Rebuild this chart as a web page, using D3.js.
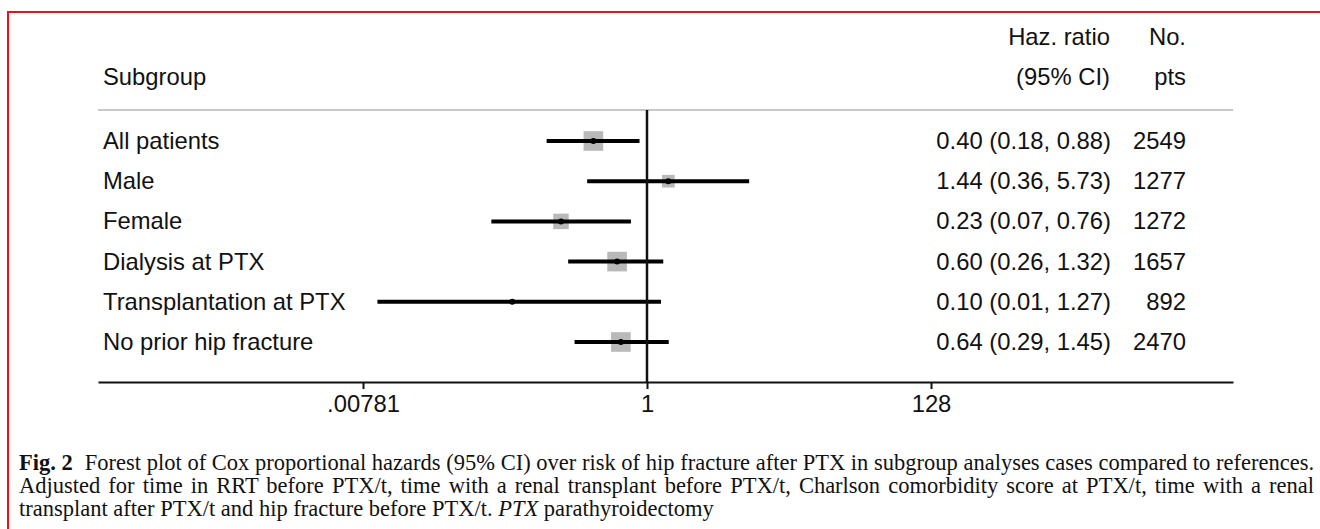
<!DOCTYPE html>
<html>
<head>
<meta charset="utf-8">
<script src="https://cdn.jsdelivr.net/npm/d3@7"></script>
<style>
  body { margin: 0; background: #fff; }
  svg { display: block; }
</style>
</head>
<body>
<svg id="chart" width="1320" height="529"></svg>
<script>
// data
const subgroups = ['All patients', 'Male', 'Female', 'Dialysis at PTX', 'Transplantation at PTX', 'No prior hip fracture'];
const hazRatio = [0.40, 1.44, 0.23, 0.60, 0.10, 0.64];
const ciLow = [0.18, 0.36, 0.07, 0.26, 0.01, 0.29];
const ciHigh = [0.88, 5.73, 0.76, 1.32, 1.27, 1.45];
const nPts = [2549, 1277, 1272, 1657, 892, 2470];
const boxWeight = [24, 10, 15, 24, 1, 24];
const tickValues = [Math.pow(2, -7), 1, 128];
const tickLabels = ['.00781', '1', '128'];

const captionLines = [
  'Forest plot of Cox proportional hazards (95% CI) over risk of hip fracture after PTX in subgroup analyses cases compared to references.',
  'Adjusted for time in RRT before PTX/t, time with a renal transplant before PTX/t, Charlson comorbidity score at PTX/t, time with a renal',
  'transplant after PTX/t and hip fracture before PTX/t.'
];

const sans = '"Liberation Sans", Arial, Helvetica, sans-serif';
const serif = '"Liberation Serif", "Times New Roman", serif';
const fontSize = 23.8;

const svg = d3.select('#chart');

// red frame (cut off at right and bottom)
svg.append('rect')
  .attr('x', 8).attr('y', 12)
  .attr('width', 1400).attr('height', 600)
  .attr('fill', 'none')
  .attr('stroke', '#e8141b')
  .attr('stroke-width', 2);

const plotLeft = 98;
const plotRight = 1233;
const headerLine = 110;
const axisY = 382;

const x = d3.scaleLog().base(2)
  .domain([Math.pow(2, -7), Math.pow(2, 7)])
  .range([363, 931]);

const xAxisScale = x.copy()
  .domain([x.invert(plotLeft), x.invert(plotRight)])
  .range([plotLeft, plotRight]);

const y = d3.scalePoint()
  .domain(subgroups)
  .range([141, 342]);

const boxSize = d3.scaleSqrt()
  .domain([0, 24])
  .range([0, 19.6]);

const fmt = d3.format('.2f');

// header texts
const header = svg.append('g')
  .style('font-family', sans)
  .style('font-size', fontSize + 'px')
  .attr('fill', '#111');

header.append('text').attr('x', 103).attr('y', 85).text('Subgroup');
header.append('text').attr('x', 1110).attr('y', 45).attr('text-anchor', 'end').text('Haz. ratio');
header.append('text').attr('x', 1110).attr('y', 85).attr('text-anchor', 'end').text('(95% CI)');
header.append('text').attr('x', 1186).attr('y', 45).attr('text-anchor', 'end').text('No.');
header.append('text').attr('x', 1186).attr('y', 85).attr('text-anchor', 'end').text('pts');

// gray divider under the header
svg.append('line')
  .attr('x1', plotLeft).attr('x2', plotRight)
  .attr('y1', headerLine).attr('y2', headerLine)
  .attr('stroke', '#c8c8c8')
  .attr('stroke-width', 2);

// x axis
const xAxis = d3.axisBottom(xAxisScale)
  .tickValues(tickValues)
  .tickFormat((d, i) => tickLabels[i])
  .tickSizeInner(7)
  .tickSizeOuter(0)
  .tickPadding(6);

const ax = svg.append('g')
  .attr('transform', `translate(0,${axisY})`)
  .call(xAxis);

ax.select('.domain').attr('stroke', '#111').attr('stroke-width', 2);
ax.selectAll('.tick line').attr('stroke', '#111').attr('stroke-width', 2);
ax.selectAll('.tick text')
  .attr('fill', '#111')
  .style('font-family', sans)
  .style('font-size', fontSize + 'px');

const rows = svg.append('g')
  .selectAll('.row')
  .data(subgroups)
  .enter()
  .append('g')
  .attr('class', 'row');

// weight boxes
rows.append('rect')
  .attr('x', (d, i) => x(hazRatio[i]) - boxSize(boxWeight[i]) / 2)
  .attr('y', (d, i) => y(d) - boxSize(boxWeight[i]) / 2)
  .attr('width', (d, i) => boxSize(boxWeight[i]))
  .attr('height', (d, i) => boxSize(boxWeight[i]))
  .attr('fill', '#b9b9b9');

// null line
svg.append('line')
  .attr('x1', x(1)).attr('x2', x(1))
  .attr('y1', headerLine).attr('y2', axisY)
  .attr('stroke', '#111')
  .attr('stroke-width', 2.5);

// confidence intervals
rows.append('line')
  .attr('x1', (d, i) => x(ciLow[i]))
  .attr('x2', (d, i) => x(ciHigh[i]))
  .attr('y1', (d) => y(d))
  .attr('y2', (d) => y(d))
  .attr('stroke', '#000')
  .attr('stroke-width', 4);

// point estimates
rows.append('circle')
  .attr('cx', (d, i) => x(hazRatio[i]))
  .attr('cy', (d) => y(d))
  .attr('r', 3)
  .attr('fill', '#000');

// row texts
const rowText = rows.append('g')
  .style('font-family', sans)
  .style('font-size', fontSize + 'px')
  .attr('fill', '#111');

rowText.append('text')
  .attr('x', 103)
  .attr('y', (d) => y(d) + 8)
  .text((d) => d);

rowText.append('text')
  .attr('x', 1111)
  .attr('y', (d) => y(d) + 8)
  .attr('text-anchor', 'end')
  .text((d, i) => `${fmt(hazRatio[i])} (${fmt(ciLow[i])}, ${fmt(ciHigh[i])})`);

rowText.append('text')
  .attr('x', 1186)
  .attr('y', (d) => y(d) + 8)
  .attr('text-anchor', 'end')
  .text((d, i) => nPts[i]);

// caption
const caption = svg.append('g')
  .style('font-family', serif)
  .style('font-size', '22.5px')
  .attr('fill', '#111');

const capLeft = 19;
const capRight = 1314;
const capY = [470, 493, 516];

const l1 = caption.append('text').attr('x', capLeft).attr('y', capY[0]);
l1.append('tspan').style('font-weight', 'bold').text('Fig. 2');
l1.append('tspan').attr('dx', 12).text(captionLines[0]);

const l2 = caption.append('text').attr('x', capLeft).attr('y', capY[1]).text(captionLines[1]);

const l3 = caption.append('text').attr('x', capLeft).attr('y', capY[2]);
l3.append('tspan').text(captionLines[2] + ' ');
l3.append('tspan').style('font-style', 'italic').text('PTX');
l3.append('tspan').text(' parathyroidectomy');

// justify the first two lines by spreading word gaps
[l1, l2].forEach((t) => {
  const node = t.node();
  const w = node.getBBox().width;
  const gaps = node.textContent.split(' ').length - 1;
  t.style('word-spacing', ((capRight - capLeft - w) / gaps) + 'px');
});
</script>
</body>
</html>
